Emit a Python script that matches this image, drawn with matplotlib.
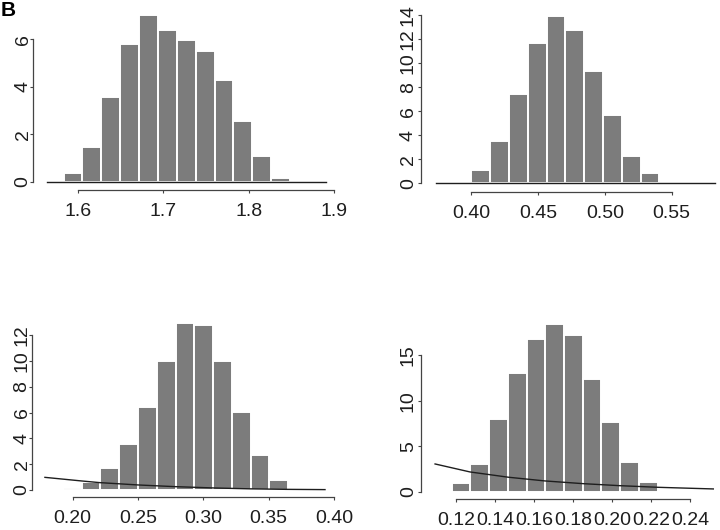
import matplotlib
matplotlib.use("Agg")
import matplotlib.pyplot as plt

plt.rcParams["font.family"] = ["Liberation Sans", "DejaVu Sans"]

# ── data (histogram bin edges / heights, prior curves) ──

edges_a = [1.583, 1.605, 1.627, 1.649, 1.672, 1.694, 1.716, 1.738, 1.760,
           1.782, 1.804, 1.826, 1.848]
heights_a = [0.38, 1.48, 3.58, 5.78, 7.02, 6.39, 5.96, 5.48, 4.28, 2.55,
             1.09, 0.17]
prior_xa = [1.564, 1.891]
prior_ya = [0.01, 0.01]

edges_b = [0.3718, 0.3859, 0.4000, 0.4142, 0.4284, 0.4424, 0.4565, 0.4705,
           0.4844, 0.4984, 0.5126, 0.5268, 0.5405, 0.5542]
heights_b = [0.03, 0.10, 1.11, 3.52, 7.43, 11.70, 13.92, 12.75, 9.34, 5.68,
             2.30, 0.89, 0.11]
prior_xb = [0.3736, 0.5822]
prior_yb = [0.01, 0.01]

edges_c = [0.1929, 0.2069, 0.2209, 0.2355, 0.2497, 0.2643, 0.2788, 0.2931,
           0.3077, 0.3217, 0.3362, 0.3505, 0.3648]
heights_c = [0.13, 0.65, 1.68, 3.54, 6.47, 9.98, 12.93, 12.80, 9.96, 6.08,
             2.74, 0.78]
prior_xc = [0.1788, 0.2069, 0.2209, 0.2502, 0.2783, 0.3076, 0.3357, 0.3637,
            0.3931]
prior_yc = [0.98, 0.70, 0.57, 0.39, 0.26, 0.16, 0.09, 0.05, 0.03]

edges_d = [0.1180, 0.1275, 0.1372, 0.1468, 0.1563, 0.1659, 0.1754, 0.1850,
           0.1945, 0.2042, 0.2139, 0.2237, 0.2330]
heights_d = [0.92, 3.05, 8.01, 13.05, 16.84, 18.42, 17.24, 12.43, 7.72, 3.24,
             1.03, 0.11]
prior_xd = [0.1094, 0.1273, 0.1469, 0.1657, 0.1853, 0.2040, 0.2236, 0.2518]
prior_yd = [3.05, 2.17, 1.59, 1.18, 0.88, 0.66, 0.48, 0.30]

xticks_a = [1.6, 1.7, 1.8, 1.9]
xlabels_a = ["1.6", "1.7", "1.8", "1.9"]
yticks_a = [0, 2, 4, 6]

xticks_b = [0.40, 0.45, 0.50, 0.55]
xlabels_b = ["0.40", "0.45", "0.50", "0.55"]
yticks_b = [0, 2, 4, 6, 8, 10, 12, 14]

xticks_c = [0.20, 0.25, 0.30, 0.35, 0.40]
xlabels_c = ["0.20", "0.25", "0.30", "0.35", "0.40"]
yticks_c = [0, 2, 4, 6, 8, 10, 12]

xticks_d = [0.12, 0.14, 0.16, 0.18, 0.20, 0.22, 0.24]
xlabels_d = ["0.12", "0.14", "0.16", "0.18", "0.20", "0.22", "0.24"]
yticks_d = [0, 5, 10, 15]

W, H = 720, 530
BAR = "#7c7c7c"
INK = "#1e1e1e"
AXIS = "#444444"


def _axes_px(fig, left, top, right, bottom):
    """Add axes using pixel coordinates (origin top-left)."""
    return fig.add_axes([left / W, 1 - bottom / H, (right - left) / W, (bottom - top) / H])


def _hist_panel(ax, edges, heights, px, py, xticks, xlabels, yticks, xlim, ylim,
                ypad=1.5):
    widths = [b - a for a, b in zip(edges[:-1], edges[1:])]
    ax.bar(edges[:-1], heights, width=widths, align="edge", color=BAR,
           edgecolor="white", linewidth=1.4, zorder=2)
    ax.plot(px, py, color=INK, linewidth=1.0, zorder=3)

    ax.set_xlim(*xlim)
    ax.set_ylim(*ylim)
    for s in ("top", "right"):
        ax.spines[s].set_visible(False)
    for s in ("left", "bottom"):
        ax.spines[s].set_color(AXIS)
        ax.spines[s].set_linewidth(0.9)
    ax.spines["left"].set_bounds(yticks[0], yticks[-1])
    ax.spines["bottom"].set_bounds(xticks[0], xticks[-1])

    ax.set_xticks(xticks)
    ax.set_xticklabels(xlabels)
    ax.set_yticks(yticks)
    ax.set_yticklabels([str(t) for t in yticks], rotation=90, va="center", ha="right")
    ax.tick_params(axis="both", length=2.5, width=0.8, color=AXIS,
                   labelsize=14, labelcolor=INK)
    ax.tick_params(axis="x", pad=7)
    ax.tick_params(axis="y", pad=ypad)
    ax.patch.set_alpha(0)


fig = plt.figure(figsize=(W / 100, H / 100), dpi=100)
fig.patch.set_facecolor("white")

ax1 = _axes_px(fig, 33, 5, 340, 190)
_hist_panel(ax1, edges_a, heights_a, prior_xa, prior_ya, xticks_a, xlabels_a,
            yticks_a, (1.5472, 1.9071), (-0.336, 7.43), ypad=-1.5)

ax2 = _axes_px(fig, 421, 5, 717, 191.7)
_hist_panel(ax2, edges_b, heights_b, prior_xb, prior_yb, xticks_b, xlabels_b,
            yticks_b, (0.3626, 0.5839), (-0.70, 14.83), ypad=0.5)

ax3 = _axes_px(fig, 32, 290, 345, 497.3)
_hist_panel(ax3, edges_c, heights_c, prior_xc, prior_yc, xticks_c, xlabels_c,
            yticks_c, (0.1689, 0.4084), (-0.566, 15.5), ypad=-1.5)

ax4 = _axes_px(fig, 421, 290, 718, 499.3)
_hist_panel(ax4, edges_d, heights_d, prior_xd, prior_yd, xticks_d, xlabels_d,
            yticks_d, (0.1022, 0.2542), (-0.84, 22.2), ypad=0.5)

fig.text(0.5 / W, 1 - 1 / H, "B", fontsize=15, fontweight="bold",
         ha="left", va="top", color="black")

fig.savefig("out.png", dpi=100, facecolor="white")
plt.close(fig)
